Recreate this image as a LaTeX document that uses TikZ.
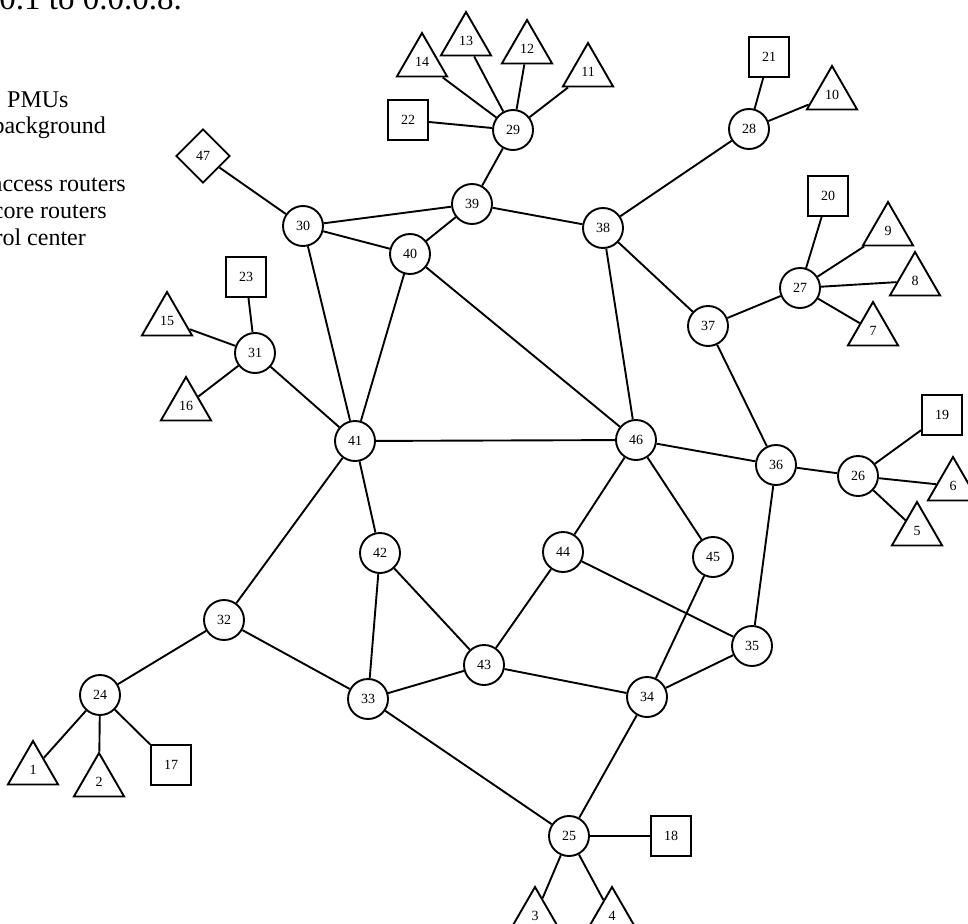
\documentclass[tikz,border=0pt]{standalone}
\usepackage{fontspec}
\setmainfont{Liberation Serif}
\usetikzlibrary{shapes.geometric}

\begin{document}
\begin{tikzpicture}[
    x=1pt, y=-1pt,
    every node/.style={font=\fontsize{14}{16}\selectfont},
    router/.style={draw, circle, line width=1.9pt, minimum size=40pt, inner sep=0pt},
    pmu/.style={draw, regular polygon, regular polygon sides=3, line width=1.9pt, minimum size=58pt, inner sep=0pt},
    access/.style={draw, rectangle, line width=1.9pt, minimum size=40pt, inner sep=0pt},
    ctrl/.style={draw, diamond, line width=1.9pt, minimum size=54pt, inner sep=0pt},
    link/.style={line width=1.9pt},
    legend/.style={font=\fontsize{24}{27}\selectfont, anchor=base east, inner sep=0pt},
  ]

  \useasboundingbox (0,0) rectangle (968,923);
  \clip (0,0) rectangle (968,923);

  % ---- Legend text (cut at the left) ----
  \node[legend, font=\fontsize{33}{36}\selectfont] (cap) at (182,10) {0.1 to 0.0.0.8.};
  \node[legend, anchor=base west] (lgA) at (7,107) {PMUs};
  \node[legend] (lgB) at (106,133) {background};
  \node[legend] (lgC) at (126,191) {access routers};
  \node[legend] (lgD) at (107,218) {core routers};
  \node[legend] (lgE) at (86,245) {control center};

  % ---- Routers ----
  \node[router] (c29) at (513,130) {29};
  \node[router] (c28) at (749,129) {28};
  \node[router] (c39) at (472,204) {39};
  \node[router] (c38) at (603,228) {38};
  \node[router] (c30) at (303,226) {30};
  \node[router] (c40) at (410,254) {40};
  \node[router] (c27) at (800,288) {27};
  \node[router] (c37) at (708,326) {37};
  \node[router] (c31) at (255,353) {31};
  \node[router] (c41) at (355,441) {41};
  \node[router] (c46) at (636,440) {46};
  \node[router] (c36) at (776,465) {36};
  \node[router] (c26) at (858,476) {26};
  \node[router] (c42) at (380,553) {42};
  \node[router] (c44) at (563,552) {44};
  \node[router] (c45) at (713,557) {45};
  \node[router] (c32) at (224,620) {32};
  \node[router] (c35) at (752,646) {35};
  \node[router] (c43) at (484,665) {43};
  \node[router] (c33) at (368,699) {33};
  \node[router] (c34) at (647,697) {34};
  \node[router] (c24) at (100,695) {24};
  \node[router] (c25) at (569,836) {25};

  % ---- Squares ----
  \node[access] (s17) at (171,765) {17};
  \node[access] (s18) at (671,836) {18};
  \node[access] (s19) at (942,415) {19};
  \node[access] (s20) at (828,196) {20};
  \node[access] (s21) at (769,57) {21};
  \node[access] (s22) at (408,120) {22};
  \node[access] (s23) at (246,277) {23};

  % ---- PMUs ----
  \node[pmu] (t1) at (33,770) {1};
  \node[pmu] (t2) at (99,782) {2};
  \node[pmu] (t3) at (535,916) {3};
  \node[pmu] (t4) at (612,916) {4};
  \node[pmu] (t5) at (917,531) {5};
  \node[pmu] (t6) at (953,486) {6};
  \node[pmu] (t7) at (873,331) {7};
  \node[pmu] (t8) at (915,281) {8};
  \node[pmu] (t9) at (888,231) {9};
  \node[pmu] (t10) at (832,95) {10};
  \node[pmu] (t11) at (588,72) {11};
  \node[pmu] (t12) at (527,49) {12};
  \node[pmu] (t13) at (466,41) {13};
  \node[pmu] (t14) at (422,62) {14};
  \node[pmu] (t15) at (167,321) {15};
  \node[pmu] (t16) at (186,406) {16};

  % ---- Control center ----
  \node[ctrl] (d47) at (203,156) {47};

  % ---- Links ----
  \draw[link] (c29) -- (s22) (c29) -- (t14) (c29) -- (t13) (c29) -- (t12) (c29) -- (t11) (c29) -- (c39);
  \draw[link] (c28) -- (s21) (c28) -- (t10) (c28) -- (c38);
  \draw[link] (c39) -- (c30) (c39) -- (c40) (c39) -- (c38);
  \draw[link] (c30) -- (d47) (c30) -- (c40) (c30) -- (c41);
  \draw[link] (c40) -- (c41) (c40) -- (c46);
  \draw[link] (c38) -- (c37) (c38) -- (c46);
  \draw[link] (c27) -- (s20) (c27) -- (t9) (c27) -- (t8) (c27) -- (t7) (c27) -- (c37);
  \draw[link] (c37) -- (c36);
  \draw[link] (c31) -- (s23) (c31) -- (t15) (c31) -- (t16) (c31) -- (c41);
  \draw[link] (c41) -- (c46) (c41) -- (c42) (c41) -- (c32);
  \draw[link] (c46) -- (c36) (c46) -- (c44) (c46) -- (c45);
  \draw[link] (c36) -- (c26) (c36) -- (c35);
  \draw[link] (c26) -- (s19) (c26) -- (t6) (c26) -- (t5);
  \draw[link] (c42) -- (c43) (c42) -- (c33);
  \draw[link] (c44) -- (c43) (c44) -- (c35);
  \draw[link] (c45) -- (c34);
  \draw[link] (c32) -- (c24) (c32) -- (c33);
  \draw[link] (c24) -- (t1) (c24) -- (t2) (c24) -- (s17);
  \draw[link] (c33) -- (c43) (c33) -- (c25);
  \draw[link] (c43) -- (c34);
  \draw[link] (c35) -- (c34);
  \draw[link] (c34) -- (c25);
  \draw[link] (c25) -- (s18) (c25) -- (t3) (c25) -- (t4);

\end{tikzpicture}
\end{document}
